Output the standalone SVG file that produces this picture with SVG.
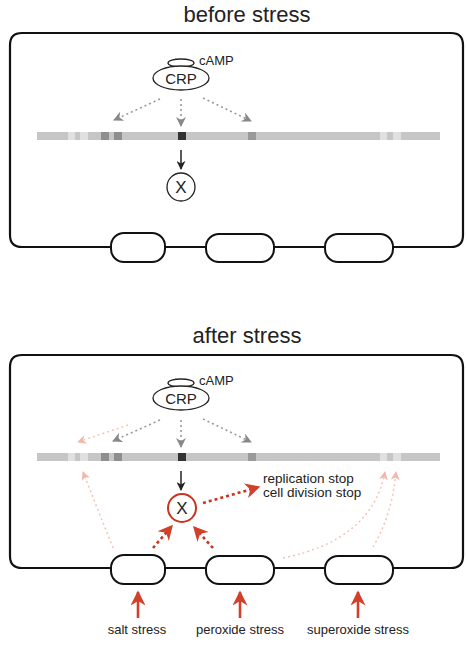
<svg xmlns="http://www.w3.org/2000/svg" width="467" height="652" viewBox="0 0 467 652">
<style>
.title{font-family:"Liberation Sans",Arial,sans-serif;font-size:22px;fill:#222;text-anchor:middle}
.lbl{font-family:"Liberation Sans",Arial,sans-serif;font-size:13px;fill:#222}
.mid{text-anchor:middle}
.cell{fill:none;stroke:#111;stroke-width:2.2}
.pore{fill:#fff;stroke:#111;stroke-width:2}
.crp{fill:#fff;stroke:#222;stroke-width:1.3}
.bar{fill:#c6c6c6}
.lt{fill:#e0e0e0}
.dk{fill:#8e8e8e}
.bk{fill:#333}
.md{fill:#9a9a9a}
.gdot{fill:none;stroke:#999;stroke-width:1.6;stroke-dasharray:2 3}
.pdot{fill:none;stroke:#f2c4b8;stroke-width:1.5;stroke-dasharray:2 3}
.rdot{fill:none;stroke:#c8341f;stroke-width:2.6;stroke-dasharray:3 3}
.solid{fill:none;stroke:#222;stroke-width:1.5}
.rsolid{fill:none;stroke:#d0402a;stroke-width:2.6}
</style>
<defs>
<marker id="ga" viewBox="0 0 10 10" refX="9" refY="5" markerWidth="11" markerHeight="10" markerUnits="userSpaceOnUse" orient="auto"><path d="M0,0 L10,5 L0,10 L3,5 z" fill="#888"/></marker>
<marker id="pa" viewBox="0 0 10 10" refX="9" refY="5" markerWidth="10" markerHeight="9" markerUnits="userSpaceOnUse" orient="auto"><path d="M0,0 L10,5 L0,10 L3,5 z" fill="#f0b8a8"/></marker>
<marker id="ba" viewBox="0 0 10 10" refX="9" refY="5" markerWidth="9" markerHeight="9" markerUnits="userSpaceOnUse" orient="auto"><path d="M0,0 L10,5 L0,10 L3,5 z" fill="#222"/></marker>
<marker id="ra" viewBox="0 0 10 10" refX="9" refY="5" markerWidth="18" markerHeight="15" markerUnits="userSpaceOnUse" orient="auto"><path d="M0,0 L10,5 L0,10 L3,5 z" fill="#d0402a"/></marker>
<marker id="rb" viewBox="0 0 10 10" refX="9" refY="5" markerWidth="18" markerHeight="15" markerUnits="userSpaceOnUse" orient="auto"><path d="M0,0 L10,5 L0,10 L3,5 z" fill="#d0402a"/></marker>
<g id="dna">
<rect class="bar" x="37" y="0" width="403" height="8"/>
<rect class="lt" x="68" y="0" width="7" height="8"/>
<rect class="lt" x="80" y="0" width="8" height="8"/>
<rect class="dk" x="101" y="0" width="8" height="8"/>
<rect class="dk" x="114" y="0" width="8" height="8"/>
<rect class="bk" x="178" y="0" width="8" height="8"/>
<rect class="md" x="248" y="0" width="8" height="8"/>
<rect class="lt" x="380" y="0" width="7" height="8"/>
<rect class="lt" x="393" y="0" width="8" height="8"/>
</g>
</defs>

<!-- BEFORE STRESS -->
<text id="title-before" class="title" x="247" y="22">before stress</text>
<g id="cell-before">
<path class="cell" d="M22,33 H451 Q463,33 463,45 V235 Q463,247 451,247 H22 Q10,247 10,235 V45 Q10,33 22,33 Z"/>
</g>
<g id="pore-b1"><rect class="pore" x="111" y="233" width="54" height="29" rx="13"/></g>
<g id="pore-b2"><rect class="pore" x="206" y="234" width="68" height="28" rx="13"/></g>
<g id="pore-b3"><rect class="pore" x="325" y="234" width="68" height="28" rx="13"/></g>
<g id="crp-before">
<ellipse class="crp" cx="181" cy="63" rx="13" ry="4"/>
<ellipse class="crp" cx="181" cy="78" rx="28" ry="12"/>
<text class="lbl mid" x="181" y="84" style="font-size:15px">CRP</text>
<text class="lbl" x="199" y="65" style="font-size:13px">cAMP</text>
</g>
<g id="dna-before"><use href="#dna" y="132"/></g>
<g id="x-before">
<circle cx="181" cy="187" r="14" fill="#fff" stroke="#222" stroke-width="1.3"/>
<text class="lbl mid" x="181" y="193" style="font-size:17px">X</text>
</g>

<!-- AFTER STRESS -->
<text id="title-after" class="title" x="247" y="343">after stress</text>
<g id="cell-after">
<path class="cell" d="M22,355 H451 Q463,355 463,367 V556 Q463,568 451,568 H22 Q10,568 10,556 V367 Q10,355 22,355 Z"/>
</g>
<g id="pore-a1"><rect class="pore" x="111" y="555" width="54" height="29" rx="13"/></g>
<g id="pore-a2"><rect class="pore" x="206" y="556" width="68" height="28" rx="13"/></g>
<g id="pore-a3"><rect class="pore" x="325" y="556" width="68" height="28" rx="13"/></g>
<g id="crp-after">
<ellipse class="crp" cx="181" cy="383" rx="13" ry="4"/>
<ellipse class="crp" cx="181" cy="398" rx="28" ry="12"/>
<text class="lbl mid" x="181" y="404" style="font-size:15px">CRP</text>
<text class="lbl" x="199" y="385" style="font-size:13px">cAMP</text>
</g>
<g id="dna-after"><use href="#dna" y="453"/></g>
<g id="x-after">
<circle cx="182" cy="508" r="14" fill="#fff" stroke="#c8341f" stroke-width="2"/>
<text class="lbl mid" x="182" y="514" style="font-size:17px">X</text>
</g>
<g id="outcome">
<text class="lbl" x="263" y="483" style="font-size:13.5px">replication stop</text>
<text class="lbl" x="263" y="497" style="font-size:13.5px">cell division stop</text>
</g>
<g id="stress-labels">
<text class="lbl mid" x="137" y="634">salt stress</text>
<text class="lbl mid" x="240" y="634">peroxide stress</text>
<text class="lbl mid" x="358" y="634">superoxide stress</text>
</g>

<g id="connectors">
<!-- before -->
<line class="gdot" x1="160" y1="99" x2="114" y2="120" marker-end="url(#ga)"/>
<line class="gdot" x1="181" y1="99" x2="181" y2="126" marker-end="url(#ga)"/>
<line class="gdot" x1="203" y1="98" x2="251" y2="121" marker-end="url(#ga)"/>
<line class="solid" x1="181" y1="150" x2="181" y2="169" marker-end="url(#ba)"/>
<!-- after -->
<line class="pdot" x1="128" y1="425" x2="78" y2="442" marker-end="url(#pa)"/>
<line class="gdot" x1="160" y1="420" x2="113" y2="441" marker-end="url(#ga)"/>
<line class="gdot" x1="181" y1="420" x2="181" y2="447" marker-end="url(#ga)"/>
<line class="gdot" x1="203" y1="419" x2="251" y2="442" marker-end="url(#ga)"/>
<line class="solid" x1="181" y1="471" x2="181" y2="490" marker-end="url(#ba)"/>
<line class="pdot" x1="113" y1="548" x2="83" y2="472" marker-end="url(#pa)"/>
<path class="pdot" d="M283,558 Q372,540 385,472" marker-end="url(#pa)"/>
<path class="pdot" d="M373,547 Q392,515 396,472" marker-end="url(#pa)"/>
<line class="rdot" x1="203" y1="503" x2="259" y2="487" marker-end="url(#ra)"/>
<line class="rdot" x1="153" y1="548" x2="172" y2="526" marker-end="url(#ra)"/>
<line class="rdot" x1="213" y1="548" x2="194" y2="527" marker-end="url(#ra)"/>
<line class="rsolid" x1="138" y1="618" x2="138" y2="592" marker-end="url(#rb)"/>
<line class="rsolid" x1="240" y1="618" x2="240" y2="592" marker-end="url(#rb)"/>
<line class="rsolid" x1="358" y1="618" x2="358" y2="592" marker-end="url(#rb)"/>
</g>
</svg>
